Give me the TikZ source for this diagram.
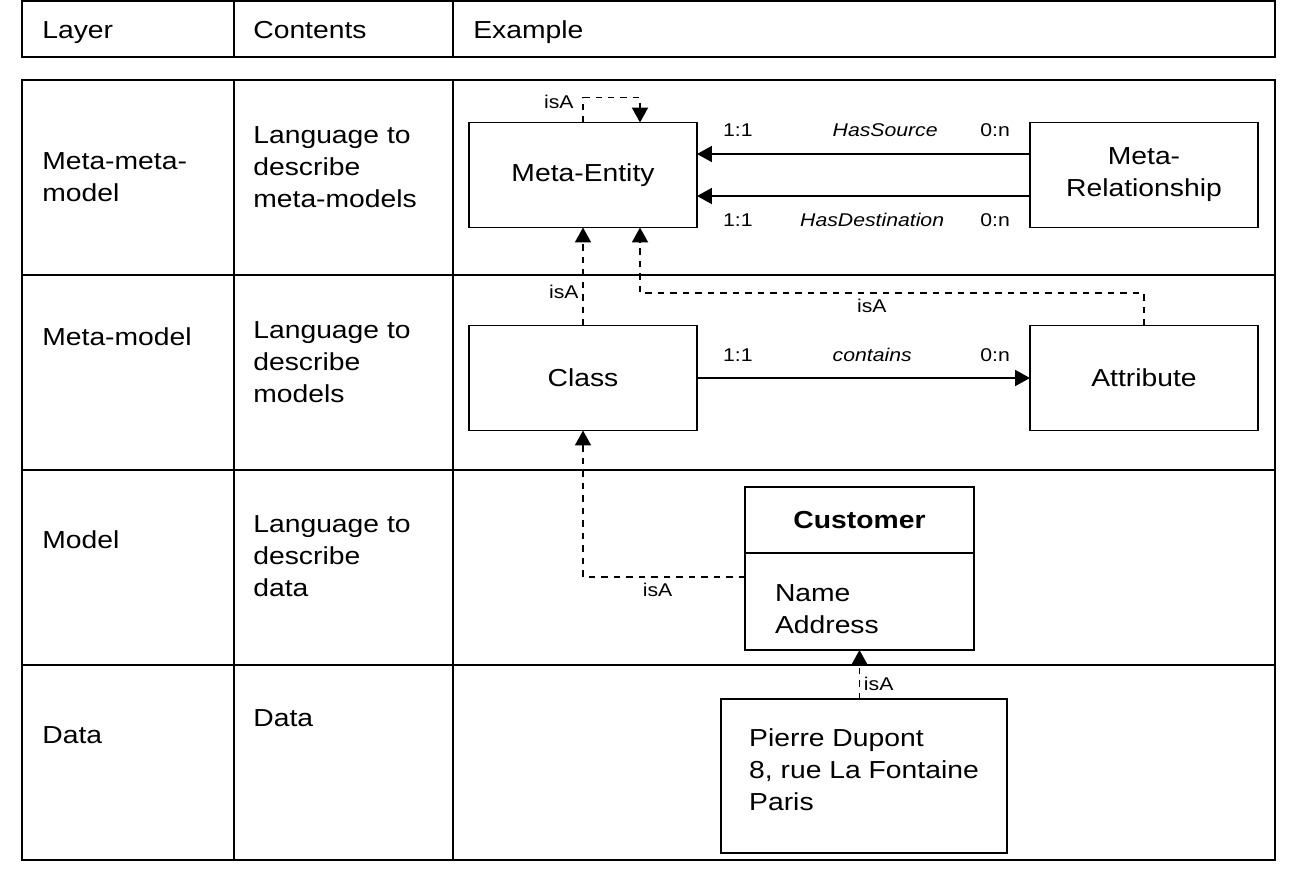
\documentclass[tikz,border=0pt]{standalone}
\usepackage{fontspec}
\setmainfont{Liberation Sans}[FakeStretch=1.15]
\usetikzlibrary{positioning}
\usetikzlibrary{arrows.meta}
\newcommand{\lyrfont}{\fontsize{14}{18.2}\selectfont}
\newcommand{\lblfont}{\fontsize{10.5}{12}\selectfont}
\tikzset{box/.style={draw,line width=1.1pt,minimum width=4.56cm,minimum height=2.1cm,align=center,inner sep=0pt,outer sep=0pt,font=\lyrfont},
	cell/.style={anchor=west,inner sep=0pt,align=left,font=\lyrfont},
	grid/.style={line width=1.1pt},
	rel/.style={line width=1.1pt,-{Triangle[length=0.3cm,width=0.32cm]}},
	isa/.style={rel,dash pattern=on 1.3mm off 1.2mm},
	lbl/.style={font=\lblfont,inner sep=2pt},
	role/.style={lbl,font=\lblfont\itshape}}
\begin{document}
\begin{tikzpicture}[x=0.02cm,y=-0.02cm]
	\useasboundingbox (0,0) rectangle (1302,877);
	\draw[grid] (22,1) rectangle (1275,57) (234,1) -- (234,57) (453,1) -- (453,57);
	\draw[grid] (22,80) rectangle (1275,860) (234,80) -- (234,860) (453,80) -- (453,860) (22,275) -- (1275,275) (22,470) -- (1275,470) (22,665) -- (1275,665);
	\node[cell,anchor=base west] (hL) at (42,38) {Layer}; \node[cell,anchor=base west] (hC) at (253,38) {Contents}; \node[cell,anchor=base west] (hE) at (473,38) {Example};
	\node[cell] (l1) at (42,177) {Meta-meta-\\model}; \node[cell] (c1) at (253,167) {Language to\\describe\\meta-models};
	\node[cell] (l2) at (42,337) {Meta-model}; \node[cell] (c2) at (253,362) {Language to\\describe\\models};
	\node[cell] (l3) at (42,540) {Model}; \node[cell] (c3) at (253,556) {Language to\\describe\\data};
	\node[cell] (l4) at (42,735) {Data}; \node[cell] (c4) at (253,718) {Data};
	\node[box] (ME) at (583,175) {Meta-Entity}; \node[box] (MR) at (1144,175) {Meta-\\Relationship};
	\node[box] (CL) at (583,378) {Class}; \node[box] (AT) at (1144,378) {Attribute};
	\node[box,minimum width=4.58cm,minimum height=1.32cm,font=\lyrfont\bfseries] (CUh) at (859.5,520) {Customer};
	\node[box,below=0pt of CUh,minimum width=4.58cm,minimum height=1.94cm,text width=3.38cm,align=left] (CUa) {\rule{0pt}{0.63cm}Name\\Address};
	\node[box,minimum width=5.72cm,minimum height=3.08cm,align=left] (PD) at (864,776) {Pierre Dupont\\8, rue La Fontaine\\Paris\rule[-0.24cm]{0pt}{0.24cm}};
	\draw[rel] ([yshift=0.42cm]MR.west) -- node[lbl,pos=0.105,yshift=0.48cm] {0:n} node[role,pos=0.435,yshift=0.48cm] {HasSource} node[lbl,pos=0.877,yshift=0.48cm] {1:1} ([yshift=0.42cm]ME.east);
	\draw[rel] ([yshift=-0.42cm]MR.west) -- node[lbl,pos=0.105,yshift=-0.48cm] {0:n} node[role,pos=0.474,yshift=-0.48cm] {HasDestination} node[lbl,pos=0.877,yshift=-0.48cm] {1:1} ([yshift=-0.42cm]ME.east);
	\draw[rel] (CL.east) -- node[lbl,pos=0.123,yshift=0.46cm] {1:1} node[role,pos=0.526,yshift=0.46cm] {contains} node[lbl,pos=0.895,yshift=0.46cm] {0:n} (AT.west);
	\draw[isa] (ME.north) -- ++(0,0.5cm) node[lbl,anchor=east,xshift=-0.1cm,yshift=-0.08cm] {isA} -| ([xshift=1.14cm]ME.north);
	\draw[isa] (CL.north) -- node[lbl,pos=0.34,left] {isA} (ME.south);
	\coordinate (k) at (640,293);
	\draw[isa] (AT.north) |- node[lbl,pos=0.77,below,yshift=-0.04cm] {isA} (k) -- (k |- ME.south);
	\draw[isa] ([yshift=0.49cm]CUa.west) -| node[lbl,pos=0.27,below,yshift=-0.04cm] {isA} (CL.south);
	\draw[isa] (PD.north -| CUa.south) -- node[lbl,pos=0.3,right] {isA} (CUa.south);
\end{tikzpicture}
\end{document}
